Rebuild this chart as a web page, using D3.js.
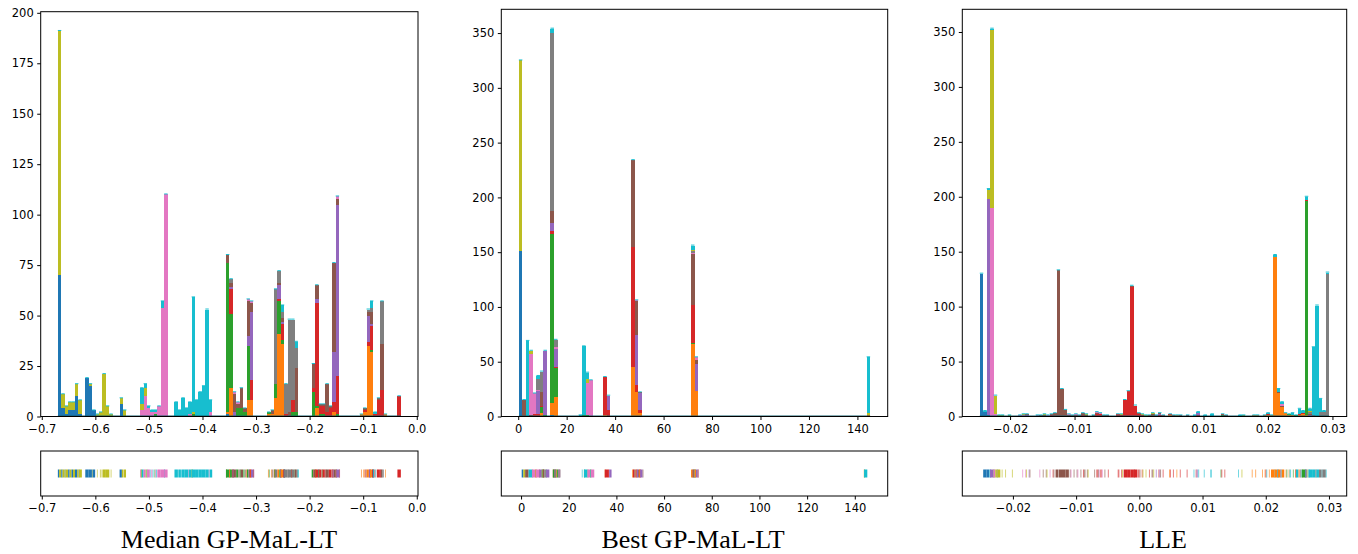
<!DOCTYPE html>
<meta charset="utf-8">
<script src="https://d3js.org/d3.v7.min.js"></script>
<style>
  body { margin: 0; background: #fff; }
  .tick text { font-family: "DejaVu Sans", sans-serif; font-size: 11.5px; fill: #000; }
  .title { font-family: "Liberation Serif", "Times New Roman", serif; font-size: 26px; fill: #000; }
</style>
<div id="chart"></div>
<script>

// matplotlib tab10, class 0 .. 9
var classColors = ["#1f77b4", "#ff7f0e", "#2ca02c", "#d62728", "#9467bd",
                   "#8c564b", "#e377c2", "#7f7f7f", "#bcbd22", "#17becf"];

var titles = ["Median GP-MaL-LT", "Best GP-MaL-LT", "LLE"];

// 100 bins per histogram; rows are [bin, c0, c1, ... c9], empty bins left out
var medianRange = [-0.670, -0.0297];
var medianHist = [
  [0, 70,0,0,0,0,0,0,0,121,0], [1, 4,0,0,0,0,0,0,0,7,0], [2, 1,0,0,0,0,0,0,0,4,0],
  [3, 3,0,0,0,0,0,0,0,4,0], [4, 3,0,0,0,0,0,0,0,4,0], [5, 10,0,0,0,0,0,0,0,6,0],
  [6, 1,0,0,0,0,0,0,0,7,0], [8, 19,0,0,0,0,0,0,0,0,0], [9, 15,0,0,0,0,0,0,0,1,0],
  [10, 3,0,0,0,0,0,0,0,0,0], [11, 0,0,0,0,0,0,0,0,1,0], [12, 0,0,0,0,0,0,0,0,2,0],
  [13, 0,0,0,0,0,0,0,0,21,0], [14, 0,0,0,0,0,0,0,0,5,0], [15, 0,0,0,0,0,0,0,0,1,0],
  [18, 6,0,0,0,0,0,0,0,3,0], [19, 0,0,0,0,0,0,0,0,3,0],
  [24, 0,0,0,0,0,0,3,0,3,8], [25, 0,0,0,0,0,0,10,0,4,2], [26, 0,0,0,0,0,0,4,0,0,1],
  [27, 0,0,0,0,0,0,2,0,0,1], [28, 0,0,1,0,0,0,1,0,0,1], [29, 0,0,0,0,0,0,5,0,0,0],
  [30, 0,0,0,0,0,0,54,0,0,3], [31, 0,0,0,0,0,0,110,0,0,0],
  [34, 0,0,0,0,0,0,0,0,0,7], [35, 0,0,0,0,0,0,0,0,0,3], [36, 0,0,0,0,0,0,0,0,0,9],
  [37, 0,0,0,0,0,0,0,0,0,4], [38, 0,0,0,0,0,0,1,0,0,6], [39, 0,0,1,0,0,0,0,0,1,57],
  [40, 0,0,0,0,0,0,0,0,0,8], [41, 0,0,0,0,0,0,0,0,0,12], [42, 0,0,0,0,0,0,0,0,0,15],
  [43, 0,0,0,0,0,0,0,0,0,53], [44, 0,0,0,0,0,0,2,0,0,6],
  [49, 1,1,74,0,0,4,0,0,0,0], [50, 0,14,37,12,1,2,0,2,0,0], [51, 0,0,0,0,2,9,1,0,0,0],
  [52, 0,0,4,0,0,2,1,0,0,0], [53, 0,0,4,0,0,10,0,0,0,0], [54, 0,0,2,0,0,2,0,0,0,0],
  [55, 0,8,27,0,5,17,1,0,0,0], [56, 0,8,0,10,34,4,1,0,0,0],
  [61, 0,1,1,0,0,0,0,0,0,0], [62, 0,1,0,0,0,2,0,0,0,0], [63, 0,9,7,0,0,0,0,47,0,0],
  [64, 0,41,16,1,7,1,0,6,0,0], [65, 0,36,2,8,1,2,0,3,0,3], [66, 0,0,0,1,0,0,0,15,0,0],
  [67, 0,0,0,0,0,2,0,46,0,0], [68, 0,0,2,6,0,0,0,40,0,0], [69, 0,0,2,0,0,22,0,10,0,3],
  [74, 0,0,12,2,0,12,0,0,0,0], [75, 0,4,1,51,2,7,0,0,0,0], [76, 0,0,1,4,0,1,0,0,0,0],
  [77, 0,0,1,4,0,1,0,0,0,0], [78, 0,0,0,2,0,14,0,0,0,0], [79, 0,0,0,4,0,1,0,0,0,0],
  [80, 0,2,0,5,25,44,0,0,0,0], [81, 0,0,1,19,85,3,1,0,0,0],
  [88, 0,1,0,0,0,0,0,0,0,0], [89, 0,2,0,1,0,1,0,0,0,0], [90, 0,35,0,2,13,2,0,1,0,0],
  [91, 0,32,1,12,1,6,0,2,0,3], [92, 0,0,0,1,0,0,0,0,0,1], [93, 0,0,0,8,0,1,0,0,0,0],
  [94, 0,0,0,13,0,23,0,21,0,0], [95, 0,1,0,0,0,0,0,0,0,0], [99, 0,0,0,10,0,0,0,0,0,0]
];

var bestRange = [0.27, 145.25];
var bestHist = [
  [0, 151,0,0,0,0,0,0,0,174,0], [1, 0,0,0,0,0,15,0,0,0,0], [2, 0,0,0,0,0,0,0,0,0,69],
  [3, 0,0,0,0,0,1,56,0,3,0], [4, 0,0,0,2,0,0,19,0,0,0], [5, 0,0,0,2,21,0,1,10,0,3],
  [6, 0,3,6,1,0,12,0,19,0,0], [7, 0,0,1,0,59,0,0,0,0,0],
  [9, 1,11,155,2,8,11,0,162,0,4], [10, 0,18,26,1,17,0,1,7,0,0],
  [17, 0,0,0,0,0,0,0,0,0,1], [18, 0,0,1,0,0,0,0,0,0,63], [19, 0,0,1,0,0,0,30,0,3,6],
  [20, 0,0,0,0,0,0,33,0,0,0], [24, 0,1,0,35,0,0,0,0,0,0], [25, 0,0,0,6,13,0,0,0,0,0],
  [32, 0,45,0,110,0,79,0,0,0,0], [33, 0,22,0,7,45,31,1,0,0,0], [34, 0,3,0,3,15,1,0,0,0,0],
  [49, 0,66,1,35,0,46,1,2,1,4], [50, 0,23,0,0,25,4,2,0,0,0],
  [99, 0,1,0,0,0,0,0,0,2,51]
];

var lleRange = [-0.0247, 0.0295];
var lleHist = [
  [0, 130,0,0,0,0,0,0,0,0,0], [1, 4,0,0,0,0,0,0,0,0,1], [2, 1,0,0,0,197,0,0,0,8,1],
  [3, 0,0,0,0,0,0,190,0,162,1], [4, 0,0,0,0,0,0,2,0,17,0], [5, 0,0,0,0,0,0,0,0,1,0],
  [6, 0,0,0,0,0,0,0,0,1,0], [8, 0,0,0,0,0,0,0,0,1,0], [11, 0,0,0,0,0,0,1,0,0,0],
  [12, 0,0,0,0,0,0,1,0,1,0], [13, 0,0,0,0,1,1,0,0,0,0], [16, 0,0,0,0,0,0,1,0,0,0],
  [17, 0,0,0,0,0,1,0,0,0,0], [18, 0,0,0,0,0,1,0,0,1,0], [19, 0,0,0,0,0,0,1,0,0,0],
  [20, 0,0,0,1,0,1,0,0,0,0], [21, 0,0,0,0,0,3,0,0,0,0], [22, 0,0,0,0,0,133,0,0,0,0],
  [23, 0,0,0,0,0,25,0,0,0,0], [24, 0,0,0,0,0,6,0,0,0,0], [25, 0,0,0,0,0,1,1,0,0,0],
  [26, 0,0,0,0,0,1,0,0,0,0], [27, 0,0,0,0,0,1,1,0,0,0], [28, 0,0,0,0,0,1,0,0,0,0],
  [29, 0,0,0,1,0,2,0,0,0,0], [30, 0,0,0,0,0,1,0,0,1,0], [32, 0,0,0,0,0,1,0,0,0,0],
  [33, 0,0,0,2,0,1,1,0,0,0], [34, 0,0,0,2,0,0,1,0,0,0], [35, 0,0,0,0,0,1,0,0,0,0],
  [36, 0,0,0,1,0,0,0,0,0,0], [39, 0,0,0,2,0,0,0,0,0,0], [40, 0,0,0,1,0,0,0,0,1,0],
  [41, 0,0,0,15,0,0,0,0,0,0], [42, 0,0,0,23,0,0,0,0,0,0], [43, 0,0,0,118,0,1,0,0,0,0],
  [44, 0,0,0,10,0,0,0,0,0,0], [45, 0,0,0,2,0,1,0,0,0,0], [46, 0,0,0,1,0,0,0,0,1,0],
  [47, 0,0,0,0,0,0,0,0,1,0], [48, 0,0,0,1,0,0,0,0,0,0], [49, 0,0,0,0,0,2,0,0,1,0],
  [50, 0,0,0,0,1,0,0,0,0,0], [51, 0,0,0,1,1,1,0,0,0,0], [52, 0,0,0,1,0,0,0,0,0,0],
  [54, 0,1,0,1,0,0,0,0,0,0], [55, 0,0,0,1,0,0,0,0,0,0], [56, 0,1,0,0,0,0,0,0,0,0],
  [57, 0,0,0,1,0,0,0,0,0,0], [59, 0,0,0,1,0,0,0,0,0,0], [61, 0,0,0,0,0,0,0,0,0,1],
  [62, 0,0,0,1,2,0,0,0,0,1], [64, 0,0,0,0,0,0,0,0,0,1], [66, 0,0,0,0,0,0,0,0,0,2],
  [69, 0,0,1,1,0,0,0,0,0,0], [70, 0,0,0,1,0,0,0,0,0,0], [74, 0,0,0,0,0,0,0,0,0,1],
  [75, 0,0,0,0,0,0,0,0,1,0], [78, 0,1,0,0,0,0,0,0,0,0], [79, 0,1,0,0,0,0,0,0,0,0],
  [81, 0,1,0,0,0,0,0,0,0,0], [82, 0,1,0,1,0,0,0,0,0,1], [83, 0,1,0,0,0,0,0,0,0,0],
  [84, 0,145,0,0,0,0,0,0,0,2], [85, 0,21,0,0,0,1,0,0,0,3], [86, 0,9,0,0,0,1,1,0,0,2],
  [87, 0,3,0,0,0,0,0,0,0,0], [88, 0,1,1,0,0,0,0,0,0,0], [89, 0,1,0,0,0,0,0,0,0,2],
  [90, 0,0,1,0,0,0,0,0,0,0], [91, 0,1,0,1,0,0,0,0,0,5], [92, 0,2,0,1,0,0,0,0,0,2],
  [93, 0,1,195,1,0,0,0,0,0,3], [94, 0,0,0,0,1,1,0,2,1,2], [95, 0,0,0,0,0,0,0,1,0,62],
  [96, 0,0,0,0,0,0,0,0,0,101], [97, 0,0,0,0,0,0,0,4,0,12], [98, 0,0,0,0,0,0,0,4,0,1],
  [99, 0,0,0,0,0,0,0,130,0,1]
];

// tick labels
var medianXTicks = [-0.7, -0.6, -0.5, -0.4, -0.3, -0.2, -0.1, 0.0];
var medianYTicks = [0, 25, 50, 75, 100, 125, 150, 175, 200];
var bestXTicks = [0, 20, 40, 60, 80, 100, 120, 140];
var bestYTicks = [0, 50, 100, 150, 200, 250, 300, 350];
var lleXTicks = [-0.02, -0.01, 0.00, 0.01, 0.02, 0.03];
var lleYTicks = [0, 50, 100, 150, 200, 250, 300, 350];

var nBins = 100;

// layout of the three columns
var panels = [
  {rows: medianHist, range: medianRange, xTicks: medianXTicks, yTicks: medianYTicks, fmt: ".1f",
   left: 40.7, right: 418, top: 11.7, rugPad: 0.05, titleX: 229, title: titles[0]},
  {rows: bestHist, range: bestRange, xTicks: bestXTicks, yTicks: bestYTicks, fmt: "d",
   left: 501.3, right: 887.7, top: 9.3, rugPad: 0.059, titleX: 693, title: titles[1]},
  {rows: lleHist, range: lleRange, xTicks: lleXTicks, yTicks: lleYTicks, fmt: ".2f",
   left: 962.3, right: 1346.7, top: 9.3, rugPad: 0.061, titleX: 1163, title: titles[2]}
];
var histBottom = 416.5, rugTop = 451, rugBottom = 496;

var svg = d3.select("#chart").append("svg")
  .attr("width", 1358)
  .attr("height", 554);

panels.forEach(function(p) {
  var w = (p.range[1] - p.range[0]) / nBins;
  var span = p.range[1] - p.range[0];

  // full table of bins
  var table = d3.range(nBins).map(function(i) { return {bin: i, counts: d3.range(10).map(function() { return 0; })}; });
  p.rows.forEach(function(r) { table[r[0]].counts = r.slice(1); });
  table.forEach(function(d) { d.total = d3.sum(d.counts); });

  var x = d3.scaleLinear()
    .domain([p.range[0] - 0.05 * span, p.range[1] + 0.05 * span])
    .range([p.left, p.right]);
  var y = d3.scaleLinear()
    .domain([0, d3.max(table, function(d) { return d.total; }) * 1.05])
    .range([histBottom, p.top]);

  var g = svg.append("g");

  var stack = d3.stack()
    .keys(d3.range(10))
    .value(function(d, k) { return d.counts[k]; });
  var series = stack(table);

  g.selectAll("g.series")
    .data(series)
    .enter().append("g")
      .attr("fill", function(s) { return classColors[s.key]; })
      .attr("shape-rendering", "crispEdges")
    .selectAll("rect")
    .data(function(s) { return s.filter(function(d) { return d[1] > d[0]; }).map(function(d) { d.bin = d.data.bin; return d; }); })
    .enter().append("rect")
      .attr("x", function(d) { return x(p.range[0] + d.bin * w); })
      .attr("width", function(d) { return x(p.range[0] + (d.bin + 1) * w) - x(p.range[0] + d.bin * w); })
      .attr("y", function(d) { return y(d[1]); })
      .attr("height", function(d) { return y(d[0]) - y(d[1]); });

  // zero-height bars of the last class show as a thin cyan edge on every stack
  g.append("g").attr("fill", classColors[9])
    .selectAll("rect")
    .data(table.filter(function(d) { return d.total > 0; }))
    .enter().append("rect")
      .attr("x", function(d) { return x(p.range[0] + d.bin * w); })
      .attr("width", function(d) { return x(p.range[0] + (d.bin + 1) * w) - x(p.range[0] + d.bin * w); })
      .attr("y", function(d) { return y(d.total) - 1; })
      .attr("height", 1);

  // and along the base where all bins are drawn flat
  g.append("line")
    .attr("x1", x(p.range[0])).attr("x2", x(p.range[1]))
    .attr("y1", y(0) - 0.5).attr("y2", y(0) - 0.5)
    .attr("stroke", "#17606e").attr("stroke-width", 1.2);

  g.append("g")
    .attr("transform", "translate(0," + histBottom + ")")
    .call(d3.axisBottom(x).tickValues(p.xTicks).tickFormat(d3.format(p.fmt)).tickSize(3.5).tickPadding(5))
    .call(function(a) { a.select(".domain").remove(); });
  g.append("g")
    .attr("transform", "translate(" + p.left + ",0)")
    .call(d3.axisLeft(y).tickValues(p.yTicks).tickSize(3.5).tickPadding(3.5))
    .call(function(a) { a.select(".domain").remove(); });

  g.append("rect")
    .attr("x", p.left).attr("y", p.top)
    .attr("width", p.right - p.left).attr("height", histBottom - p.top)
    .attr("fill", "none").attr("stroke", "#000").attr("stroke-width", 1);

  // rug of the same points underneath
  var xr = d3.scaleLinear()
    .domain([p.range[0] - p.rugPad * span, p.range[1] + p.rugPad * span])
    .range([p.left, p.right]);

  var marks = [];
  p.rows.forEach(function(r) {
    var counts = r.slice(1), n = d3.sum(counts);
    var used = Math.min(1, n / 4) * w;
    var x0 = p.range[0] + r[0] * w + (w - used) / 2;
    var acc = 0;
    counts.forEach(function(c, k) {
      if (!c) return;
      marks.push({k: k, c: c, a: x0 + used * acc / n, b: x0 + used * (acc + c) / n});
      acc += c;
    });
  });

  var rugMid = (rugTop + rugBottom) / 2;
  g.append("g").selectAll("rect")
    .data(marks)
    .enter().append("rect")
      .attr("x", function(d) { return xr(d.a); })
      .attr("width", function(d) { return Math.max(1, xr(d.b) - xr(d.a)); })
      .attr("y", rugMid - 4)
      .attr("height", 8)
      .attr("fill", function(d) { return classColors[d.k]; })
      .attr("opacity", function(d) { return d.c >= 3 ? 1 : 0.6; });

  g.append("g")
    .attr("transform", "translate(0," + rugBottom + ")")
    .call(d3.axisBottom(xr).tickValues(p.xTicks).tickFormat(d3.format(p.fmt)).tickSize(3.5).tickPadding(4.5))
    .call(function(a) { a.select(".domain").remove(); });

  g.append("rect")
    .attr("x", p.left).attr("y", rugTop)
    .attr("width", p.right - p.left).attr("height", rugBottom - rugTop)
    .attr("fill", "none").attr("stroke", "#000").attr("stroke-width", 1);

  svg.append("text")
    .attr("class", "title")
    .attr("x", p.titleX)
    .attr("y", 548)
    .attr("text-anchor", "middle")
    .text(p.title);
});

</script>
